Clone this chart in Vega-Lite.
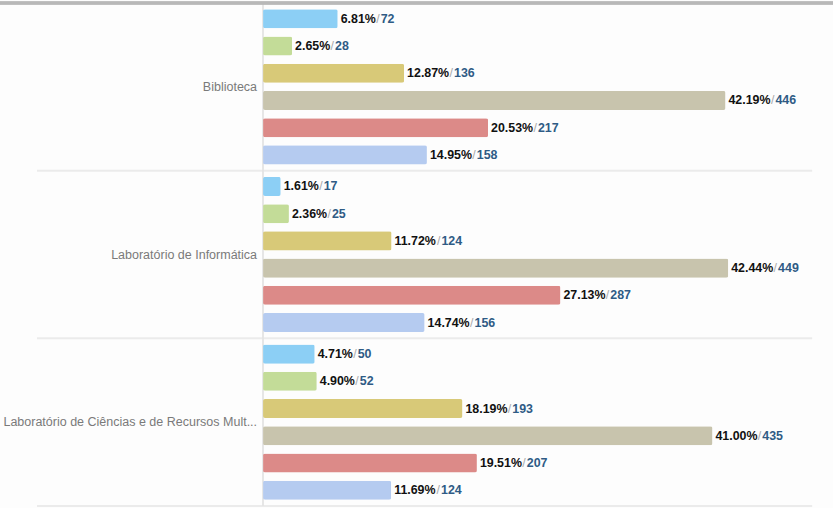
{
  "$schema": "https://vega.github.io/schema/vega-lite/v6.json",
  "autosize": "none",
  "width": 833,
  "height": 503,
  "padding": {"top": 3, "bottom": 2, "left": 0, "right": 0},
  "background": "#fdfdfd",
  "config": {"view": {"stroke": null}, "text": {"font": "Liberation Sans"}},
  "datasets": {
    "bars": [
      {"cat": "Biblioteca", "s": "s1", "pct": 6.81, "pctText": "6.81%", "n": "72"},
      {"cat": "Biblioteca", "s": "s2", "pct": 2.65, "pctText": "2.65%", "n": "28"},
      {"cat": "Biblioteca", "s": "s3", "pct": 12.87, "pctText": "12.87%", "n": "136"},
      {"cat": "Biblioteca", "s": "s4", "pct": 42.19, "pctText": "42.19%", "n": "446"},
      {"cat": "Biblioteca", "s": "s5", "pct": 20.53, "pctText": "20.53%", "n": "217"},
      {"cat": "Biblioteca", "s": "s6", "pct": 14.95, "pctText": "14.95%", "n": "158"},
      {"cat": "Laboratório de Informática", "s": "s1", "pct": 1.61, "pctText": "1.61%", "n": "17"},
      {"cat": "Laboratório de Informática", "s": "s2", "pct": 2.36, "pctText": "2.36%", "n": "25"},
      {"cat": "Laboratório de Informática", "s": "s3", "pct": 11.72, "pctText": "11.72%", "n": "124"},
      {"cat": "Laboratório de Informática", "s": "s4", "pct": 42.44, "pctText": "42.44%", "n": "449"},
      {"cat": "Laboratório de Informática", "s": "s5", "pct": 27.13, "pctText": "27.13%", "n": "287"},
      {"cat": "Laboratório de Informática", "s": "s6", "pct": 14.74, "pctText": "14.74%", "n": "156"},
      {"cat": "Laboratório de Ciências e de Recursos Mult...", "s": "s1", "pct": 4.71, "pctText": "4.71%", "n": "50"},
      {"cat": "Laboratório de Ciências e de Recursos Mult...", "s": "s2", "pct": 4.90, "pctText": "4.90%", "n": "52"},
      {"cat": "Laboratório de Ciências e de Recursos Mult...", "s": "s3", "pct": 18.19, "pctText": "18.19%", "n": "193"},
      {"cat": "Laboratório de Ciências e de Recursos Mult...", "s": "s4", "pct": 41.00, "pctText": "41.00%", "n": "435"},
      {"cat": "Laboratório de Ciências e de Recursos Mult...", "s": "s5", "pct": 19.51, "pctText": "19.51%", "n": "207"},
      {"cat": "Laboratório de Ciências e de Recursos Mult...", "s": "s6", "pct": 11.69, "pctText": "11.69%", "n": "124"}
    ],
    "cats": [
      {"cat": "Biblioteca"},
      {"cat": "Laboratório de Informática"},
      {"cat": "Laboratório de Ciências e de Recursos Mult..."}
    ]
  },
  "resolve": {"scale": {"x": "shared", "y": "shared"}},
  "layer": [
    {
      "data": {"name": "cats"},
      "mark": {"type": "rule", "color": "#ebebeb", "strokeWidth": 2},
      "encoding": {
        "y": {"field": "cat", "type": "nominal", "bandPosition": 1,
              "scale": {"domain": ["Biblioteca", "Laboratório de Informática", "Laboratório de Ciências e de Recursos Mult..."], "paddingInner": 0, "paddingOuter": 0}, "axis": null},
        "x": {"datum": -20.62, "type": "quantitative", "scale": {"domain": [-24, 52.0], "nice": false, "zero": false}, "axis": null},
        "x2": {"datum": 50.1}
      }
    },
    {
      "data": {"name": "cats"},
      "mark": {"type": "rule", "color": "#e3e3e3", "strokeWidth": 1},
      "encoding": {
        "x": {"datum": 0, "type": "quantitative", "scale": {"domain": [-24, 52.0], "nice": false, "zero": false}, "axis": null}
      }
    },
    {
      "data": {"name": "cats"},
      "mark": {"type": "rule", "color": "#b8b8b8", "strokeWidth": 3},
      "encoding": {
        "y": {"datum": "Biblioteca", "type": "nominal", "bandPosition": 0, "axis": null}
      }
    },
    {
      "data": {"name": "cats"},
      "mark": {"type": "text", "align": "right", "baseline": "middle", "dx": -6, "fontSize": 12.5, "color": "#7a7a7a"},
      "encoding": {
        "y": {"field": "cat", "type": "nominal", "axis": null},
        "x": {"datum": 0, "type": "quantitative", "scale": {"domain": [-24, 52.0], "nice": false, "zero": false}, "axis": null},
        "text": {"field": "cat"}
      }
    },
    {
      "data": {"name": "bars"},
      "mark": {"type": "bar", "cornerRadius": 2},
      "encoding": {
        "y": {"field": "cat", "type": "nominal", "axis": null},
        "yOffset": {"field": "s", "type": "nominal", "scale": {"paddingInner": 0.3, "paddingOuter": 0.23}},
        "x": {"field": "pct", "type": "quantitative", "scale": {"domain": [-24, 52.0], "nice": false, "zero": false}, "axis": null},
        "color": {"field": "s", "type": "nominal", "legend": null,
                  "scale": {"domain": ["s1", "s2", "s3", "s4", "s5", "s6"], "range": ["#8ccff5", "#c3dc98", "#d8c978", "#c8c4ad", "#dc8a88", "#b5cbf0"]}}
      }
    },
    {
      "data": {"name": "bars"},
      "mark": {"type": "text", "align": "left", "baseline": "middle", "dx": 3, "fontSize": 12.4, "fontWeight": "bold", "color": "#111111"},
      "encoding": {
        "y": {"field": "cat", "type": "nominal", "axis": null},
        "yOffset": {"field": "s", "type": "nominal"},
        "x": {"field": "pct", "type": "quantitative", "axis": null},
        "text": {"field": "pctText"}
      }
    },
    {
      "data": {"name": "bars"},
      "transform": [{"filter": "datum.pct < 10"}],
      "mark": {"type": "text", "align": "left", "baseline": "middle", "dx": 38.5, "fontSize": 12.4, "color": "#aaaaaa"},
      "encoding": {
        "y": {"field": "cat", "type": "nominal", "axis": null},
        "yOffset": {"field": "s", "type": "nominal"},
        "x": {"field": "pct", "type": "quantitative", "axis": null},
        "text": {"value": "/"}
      }
    },
    {
      "data": {"name": "bars"},
      "transform": [{"filter": "datum.pct >= 10"}],
      "mark": {"type": "text", "align": "left", "baseline": "middle", "dx": 45.4, "fontSize": 12.4, "color": "#aaaaaa"},
      "encoding": {
        "y": {"field": "cat", "type": "nominal", "axis": null},
        "yOffset": {"field": "s", "type": "nominal"},
        "x": {"field": "pct", "type": "quantitative", "axis": null},
        "text": {"value": "/"}
      }
    },
    {
      "data": {"name": "bars"},
      "transform": [{"filter": "datum.pct < 10"}],
      "mark": {"type": "text", "align": "left", "baseline": "middle", "dx": 43, "fontSize": 12.4, "fontWeight": "bold", "color": "#2f5b85"},
      "encoding": {
        "y": {"field": "cat", "type": "nominal", "axis": null},
        "yOffset": {"field": "s", "type": "nominal"},
        "x": {"field": "pct", "type": "quantitative", "axis": null},
        "text": {"field": "n"}
      }
    },
    {
      "data": {"name": "bars"},
      "transform": [{"filter": "datum.pct >= 10"}],
      "mark": {"type": "text", "align": "left", "baseline": "middle", "dx": 49.9, "fontSize": 12.4, "fontWeight": "bold", "color": "#2f5b85"},
      "encoding": {
        "y": {"field": "cat", "type": "nominal", "axis": null},
        "yOffset": {"field": "s", "type": "nominal"},
        "x": {"field": "pct", "type": "quantitative", "axis": null},
        "text": {"field": "n"}
      }
    }
  ]
}
